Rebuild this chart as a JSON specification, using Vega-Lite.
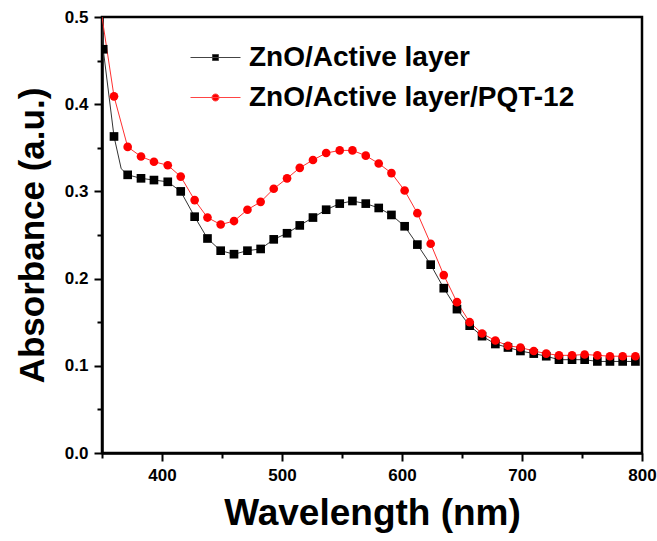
{
  "$schema": "https://vega.github.io/schema/vega-lite/v6.json",
  "autosize": {"type": "none"},
  "padding": {"left": 102, "top": 17, "right": 15, "bottom": 88},
  "width": 540,
  "height": 436,
  "background": "white",
  "config": {
    "view": {"stroke": "black", "strokeWidth": 2.5},
    "axis": {
      "domainColor": "black", "domainWidth": 2.5, "tickColor": "black", "tickWidth": 2,
      "labelFont": "Liberation Sans", "labelFontSize": 17, "labelFontWeight": "bold", "labelColor": "black",
      "titleFont": "Liberation Sans", "titleFontSize": 35, "titleFontWeight": "bold", "titleColor": "black",
      "grid": false, "labelOverlap": false, "labelFlush": false
    }
  },
  "data": {"values": [
    {"series": "ZnO/Active layer", "wl": 350, "abs": 0.49, "marker": false},
    {"series": "ZnO/Active layer", "wl": 351, "abs": 0.463, "marker": true},
    {"series": "ZnO/Active layer", "wl": 360, "abs": 0.363, "marker": true},
    {"series": "ZnO/Active layer", "wl": 366, "abs": 0.326, "marker": false},
    {"series": "ZnO/Active layer", "wl": 371.4, "abs": 0.319, "marker": true},
    {"series": "ZnO/Active layer", "wl": 382.5, "abs": 0.315, "marker": true},
    {"series": "ZnO/Active layer", "wl": 393.3, "abs": 0.313, "marker": true},
    {"series": "ZnO/Active layer", "wl": 404.8, "abs": 0.311, "marker": true},
    {"series": "ZnO/Active layer", "wl": 415.6, "abs": 0.300, "marker": true},
    {"series": "ZnO/Active layer", "wl": 427.2, "abs": 0.271, "marker": true},
    {"series": "ZnO/Active layer", "wl": 437.9, "abs": 0.246, "marker": true},
    {"series": "ZnO/Active layer", "wl": 448.9, "abs": 0.232, "marker": true},
    {"series": "ZnO/Active layer", "wl": 460.0, "abs": 0.228, "marker": true},
    {"series": "ZnO/Active layer", "wl": 471.2, "abs": 0.232, "marker": true},
    {"series": "ZnO/Active layer", "wl": 482.2, "abs": 0.234, "marker": true},
    {"series": "ZnO/Active layer", "wl": 493.1, "abs": 0.245, "marker": true},
    {"series": "ZnO/Active layer", "wl": 504.2, "abs": 0.252, "marker": true},
    {"series": "ZnO/Active layer", "wl": 514.8, "abs": 0.261, "marker": true},
    {"series": "ZnO/Active layer", "wl": 525.8, "abs": 0.270, "marker": true},
    {"series": "ZnO/Active layer", "wl": 536.8, "abs": 0.279, "marker": true},
    {"series": "ZnO/Active layer", "wl": 548.1, "abs": 0.286, "marker": true},
    {"series": "ZnO/Active layer", "wl": 558.7, "abs": 0.289, "marker": true},
    {"series": "ZnO/Active layer", "wl": 569.8, "abs": 0.286, "marker": true},
    {"series": "ZnO/Active layer", "wl": 580.6, "abs": 0.281, "marker": true},
    {"series": "ZnO/Active layer", "wl": 591.2, "abs": 0.273, "marker": true},
    {"series": "ZnO/Active layer", "wl": 602.2, "abs": 0.260, "marker": true},
    {"series": "ZnO/Active layer", "wl": 612.8, "abs": 0.239, "marker": true},
    {"series": "ZnO/Active layer", "wl": 623.9, "abs": 0.216, "marker": true},
    {"series": "ZnO/Active layer", "wl": 634.8, "abs": 0.189, "marker": true},
    {"series": "ZnO/Active layer", "wl": 645.8, "abs": 0.165, "marker": true},
    {"series": "ZnO/Active layer", "wl": 656.4, "abs": 0.146, "marker": true},
    {"series": "ZnO/Active layer", "wl": 666.7, "abs": 0.134, "marker": true},
    {"series": "ZnO/Active layer", "wl": 677.8, "abs": 0.125, "marker": true},
    {"series": "ZnO/Active layer", "wl": 688.3, "abs": 0.121, "marker": true},
    {"series": "ZnO/Active layer", "wl": 698.7, "abs": 0.117, "marker": true},
    {"series": "ZnO/Active layer", "wl": 709.8, "abs": 0.114, "marker": true},
    {"series": "ZnO/Active layer", "wl": 720.2, "abs": 0.111, "marker": true},
    {"series": "ZnO/Active layer", "wl": 730.8, "abs": 0.107, "marker": true},
    {"series": "ZnO/Active layer", "wl": 741.7, "abs": 0.107, "marker": true},
    {"series": "ZnO/Active layer", "wl": 752.2, "abs": 0.107, "marker": true},
    {"series": "ZnO/Active layer", "wl": 762.8, "abs": 0.105, "marker": true},
    {"series": "ZnO/Active layer", "wl": 773.3, "abs": 0.105, "marker": true},
    {"series": "ZnO/Active layer", "wl": 783.9, "abs": 0.105, "marker": true},
    {"series": "ZnO/Active layer", "wl": 794.5, "abs": 0.105, "marker": true},
    {"series": "ZnO/Active layer/PQT-12", "wl": 350, "abs": 0.50, "marker": false},
    {"series": "ZnO/Active layer/PQT-12", "wl": 360, "abs": 0.409, "marker": true},
    {"series": "ZnO/Active layer/PQT-12", "wl": 371.4, "abs": 0.351, "marker": true},
    {"series": "ZnO/Active layer/PQT-12", "wl": 382.5, "abs": 0.340, "marker": true},
    {"series": "ZnO/Active layer/PQT-12", "wl": 393.3, "abs": 0.334, "marker": true},
    {"series": "ZnO/Active layer/PQT-12", "wl": 404.8, "abs": 0.330, "marker": true},
    {"series": "ZnO/Active layer/PQT-12", "wl": 415.6, "abs": 0.317, "marker": true},
    {"series": "ZnO/Active layer/PQT-12", "wl": 427.2, "abs": 0.290, "marker": true},
    {"series": "ZnO/Active layer/PQT-12", "wl": 437.9, "abs": 0.270, "marker": true},
    {"series": "ZnO/Active layer/PQT-12", "wl": 448.9, "abs": 0.262, "marker": true},
    {"series": "ZnO/Active layer/PQT-12", "wl": 460.0, "abs": 0.266, "marker": true},
    {"series": "ZnO/Active layer/PQT-12", "wl": 471.2, "abs": 0.279, "marker": true},
    {"series": "ZnO/Active layer/PQT-12", "wl": 482.2, "abs": 0.288, "marker": true},
    {"series": "ZnO/Active layer/PQT-12", "wl": 493.1, "abs": 0.303, "marker": true},
    {"series": "ZnO/Active layer/PQT-12", "wl": 504.2, "abs": 0.315, "marker": true},
    {"series": "ZnO/Active layer/PQT-12", "wl": 514.8, "abs": 0.327, "marker": true},
    {"series": "ZnO/Active layer/PQT-12", "wl": 525.8, "abs": 0.336, "marker": true},
    {"series": "ZnO/Active layer/PQT-12", "wl": 536.8, "abs": 0.344, "marker": true},
    {"series": "ZnO/Active layer/PQT-12", "wl": 548.1, "abs": 0.347, "marker": true},
    {"series": "ZnO/Active layer/PQT-12", "wl": 558.7, "abs": 0.347, "marker": true},
    {"series": "ZnO/Active layer/PQT-12", "wl": 569.8, "abs": 0.341, "marker": true},
    {"series": "ZnO/Active layer/PQT-12", "wl": 580.6, "abs": 0.332, "marker": true},
    {"series": "ZnO/Active layer/PQT-12", "wl": 591.2, "abs": 0.321, "marker": true},
    {"series": "ZnO/Active layer/PQT-12", "wl": 602.2, "abs": 0.301, "marker": true},
    {"series": "ZnO/Active layer/PQT-12", "wl": 612.8, "abs": 0.275, "marker": true},
    {"series": "ZnO/Active layer/PQT-12", "wl": 623.9, "abs": 0.240, "marker": true},
    {"series": "ZnO/Active layer/PQT-12", "wl": 634.8, "abs": 0.204, "marker": true},
    {"series": "ZnO/Active layer/PQT-12", "wl": 645.8, "abs": 0.173, "marker": true},
    {"series": "ZnO/Active layer/PQT-12", "wl": 656.4, "abs": 0.150, "marker": true},
    {"series": "ZnO/Active layer/PQT-12", "wl": 666.7, "abs": 0.137, "marker": true},
    {"series": "ZnO/Active layer/PQT-12", "wl": 677.8, "abs": 0.129, "marker": true},
    {"series": "ZnO/Active layer/PQT-12", "wl": 688.3, "abs": 0.123, "marker": true},
    {"series": "ZnO/Active layer/PQT-12", "wl": 698.7, "abs": 0.121, "marker": true},
    {"series": "ZnO/Active layer/PQT-12", "wl": 709.8, "abs": 0.117, "marker": true},
    {"series": "ZnO/Active layer/PQT-12", "wl": 720.2, "abs": 0.114, "marker": true},
    {"series": "ZnO/Active layer/PQT-12", "wl": 730.8, "abs": 0.112, "marker": true},
    {"series": "ZnO/Active layer/PQT-12", "wl": 741.7, "abs": 0.112, "marker": true},
    {"series": "ZnO/Active layer/PQT-12", "wl": 752.2, "abs": 0.113, "marker": true},
    {"series": "ZnO/Active layer/PQT-12", "wl": 762.8, "abs": 0.112, "marker": true},
    {"series": "ZnO/Active layer/PQT-12", "wl": 773.3, "abs": 0.111, "marker": true},
    {"series": "ZnO/Active layer/PQT-12", "wl": 783.9, "abs": 0.111, "marker": true},
    {"series": "ZnO/Active layer/PQT-12", "wl": 794.5, "abs": 0.111, "marker": true}
  ]},
  "encoding": {
    "x": {"field": "wl", "type": "quantitative",
      "scale": {"domain": [350, 800], "nice": false, "zero": false},
      "axis": {"title": "Wavelength (nm)", "titleFontSize": 37, "values": [350, 400, 450, 500, 550, 600, 650, 700, 750, 800],
        "labelExpr": "datum.value % 100 === 0 ? datum.label : ''",
        "tickSize": {"condition": {"test": "datum.value % 100 === 0", "value": 8}, "value": 5},
        "labelPadding": 6, "titlePadding": 12}},
    "y": {"field": "abs", "type": "quantitative",
      "scale": {"domain": [0, 0.5], "nice": false},
      "axis": {"title": "Absorbance (a.u.)", "values": [0, 0.05, 0.1, 0.15, 0.2, 0.25, 0.3, 0.35, 0.4, 0.45, 0.5],
        "labelExpr": "abs(datum.value * 10 - round(datum.value * 10)) < 0.001 ? format(datum.value, '.1f') : ''",
        "tickSize": {"condition": {"test": "abs(datum.value * 10 - round(datum.value * 10)) < 0.001", "value": 8}, "value": 5},
        "labelPadding": 6, "titlePadding": 14}},
    "color": {"field": "series", "type": "nominal",
      "scale": {"domain": ["ZnO/Active layer", "ZnO/Active layer/PQT-12"], "range": ["black", "#ff0000"]},
      "legend": {
        "orient": "none", "legendX": 88, "legendY": 15, "title": null,
        "labelFont": "Liberation Sans", "labelFontSize": 28, "labelFontWeight": "bold", "labelColor": "black",
        "labelLimit": 0, "symbolSize": 2500, "labelOffset": 8, "rowPadding": -17, "symbolOpacity": 1,
        "encode": {"symbols": {"update": {
          "shape": {"signal": "datum.value === 'ZnO/Active layer' ? 'M-1,0H1M-0.12,-0.12H0.12V0.12H-0.12Z' : 'M-1,0H1M0.14,0A0.14,0.14 0 1,1 -0.14,0A0.14,0.14 0 1,1 0.14,0Z'"},
          "fill": {"signal": "datum.value === 'ZnO/Active layer' ? 'black' : '#ff0000'"},
          "stroke": {"signal": "datum.value === 'ZnO/Active layer' ? '#444444' : '#ff4444'"},
          "strokeWidth": {"value": 1},
          "opacity": {"value": 1}
        }}}
      }}
  },
  "layer": [
    {"mark": {"type": "line", "strokeWidth": 1, "clip": true},
     "encoding": {"color": {"field": "series", "type": "nominal",
        "scale": {"domain": ["ZnO/Active layer", "ZnO/Active layer/PQT-12"], "range": ["#333333", "#ff3030"]}, "legend": null}}},
    {"transform": [{"filter": "datum.marker"}],
     "mark": {"type": "point", "filled": true, "opacity": 1, "size": 75, "clip": true},
     "encoding": {"shape": {"field": "series", "type": "nominal",
        "scale": {"domain": ["ZnO/Active layer", "ZnO/Active layer/PQT-12"], "range": ["square", "circle"]}, "legend": null}}}
  ],
  "resolve": {"scale": {"color": "independent"}}
}
